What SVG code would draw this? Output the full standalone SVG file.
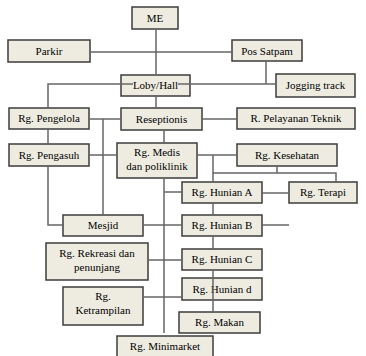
<svg xmlns="http://www.w3.org/2000/svg" width="366" height="356" viewBox="0 0 366 356">
<style>
.box{fill:#eeece1;stroke:#3c3c3c;stroke-width:1.5}
.t{font-family:"Liberation Serif","Times New Roman",serif;font-size:11px;fill:#000;text-anchor:middle}
.c{fill:none;stroke:#666666;stroke-width:1.5}
</style>
<rect width="366" height="356" fill="#ffffff"/>
<g id="nodes">
<g id="me"><rect class="box" x="132" y="7" width="46" height="22"/><text class="t" x="155" y="22">ME</text></g>
<g id="parkir"><rect class="box" x="8" y="40" width="82" height="22"/><text class="t" x="49" y="55">Parkir</text></g>
<g id="pos-satpam"><rect class="box" x="232" y="40" width="70" height="21"/><text class="t" x="267" y="55">Pos Satpam</text></g>
<g id="loby"><rect class="box" x="121" y="75" width="69" height="21"/><text class="t" x="155.5" y="89">Loby/Hall</text></g>
<g id="jogging"><rect class="box" x="276" y="74" width="79" height="23"/><text class="t" x="315.5" y="89">Jogging track</text></g>
<g id="pengelola"><rect class="box" x="9" y="108" width="80" height="21"/><text class="t" x="49" y="122">Rg. Pengelola</text></g>
<g id="reseptionis"><rect class="box" x="121" y="108" width="81" height="22"/><text class="t" x="161.5" y="123">Reseptionis</text></g>
<g id="pelayanan-teknik"><rect class="box" x="237" y="108" width="118" height="21"/><text class="t" x="296" y="122">R. Pelayanan Teknik</text></g>
<g id="pengasuh"><rect class="box" x="9" y="144" width="80" height="22"/><text class="t" x="49" y="159">Rg. Pengasuh</text></g>
<g id="medis"><rect class="box" x="117" y="143" width="80" height="35"/><text class="t" x="157" y="156">Rg. Medis</text><text class="t" x="157" y="170">dan poliklinik</text></g>
<g id="kesehatan"><rect class="box" x="237" y="144" width="100" height="22"/><text class="t" x="287" y="159">Rg. Kesehatan</text></g>
<g id="hunian-a"><rect class="box" x="182" y="182" width="80" height="21"/><text class="t" x="222" y="196">Rg. Hunian A</text></g>
<g id="terapi"><rect class="box" x="289" y="182" width="68" height="21"/><text class="t" x="323" y="196">Rg. Terapi</text></g>
<g id="mesjid"><rect class="box" x="63" y="215" width="80" height="21"/><text class="t" x="103" y="229">Mesjid</text></g>
<g id="hunian-b"><rect class="box" x="182" y="215" width="80" height="21"/><text class="t" x="222" y="229">Rg. Hunian B</text></g>
<g id="rekreasi"><rect class="box" x="46" y="243" width="102" height="37"/><text class="t" x="97" y="257">Rg. Rekreasi dan</text><text class="t" x="97" y="271">penunjang</text></g>
<g id="hunian-c"><rect class="box" x="182" y="249" width="80" height="21"/><text class="t" x="222" y="263">Rg. Hunian C</text></g>
<g id="hunian-d"><rect class="box" x="182" y="278" width="80" height="22"/><text class="t" x="222" y="293">Rg. Hunian d</text></g>
<g id="ketrampilan"><rect class="box" x="63" y="287" width="80" height="38"/><text class="t" x="103" y="300">Rg.</text><text class="t" x="103" y="314">Ketrampilan</text></g>
<g id="makan"><rect class="box" x="179" y="312" width="81" height="21"/><text class="t" x="219.5" y="326">Rg. Makan</text></g>
<g id="minimarket"><rect class="box" x="117" y="336" width="96" height="24"/><text class="t" x="165" y="350">Rg. Minimarket</text></g>
</g>
<g id="connectors">
<path class="c" d="M156 29V75"/>
<path class="c" d="M90 52H232"/>
<path class="c" d="M266 61V84"/>
<path class="c" d="M48 108V84H133"/>
<path class="c" d="M178 84H276"/>
<path class="c" d="M156 96V108"/>
<path class="c" d="M89 119H121"/>
<path class="c" d="M103 119V215"/>
<path class="c" d="M202 119H237"/>
<path class="c" d="M48 129V144"/>
<path class="c" d="M89 155H117"/>
<path class="c" d="M48 166V225H63"/>
<path class="c" d="M164 130V143"/>
<path class="c" d="M164 178V333"/>
<path class="c" d="M164 192H182"/>
<path class="c" d="M197 155H237"/>
<path class="c" d="M213 155V182"/>
<path class="c" d="M213 173H336V182"/>
<path class="c" d="M277 166V173"/>
<path class="c" d="M262 193H289"/>
<path class="c" d="M262 225H289"/>
<path class="c" d="M213 203V215"/>
<path class="c" d="M213 236V249"/>
<path class="c" d="M213 270V312"/>
<path class="c" d="M143 225H182"/>
<path class="c" d="M148 260H182"/>
<path class="c" d="M143 297H182"/>
</g>
</svg>
